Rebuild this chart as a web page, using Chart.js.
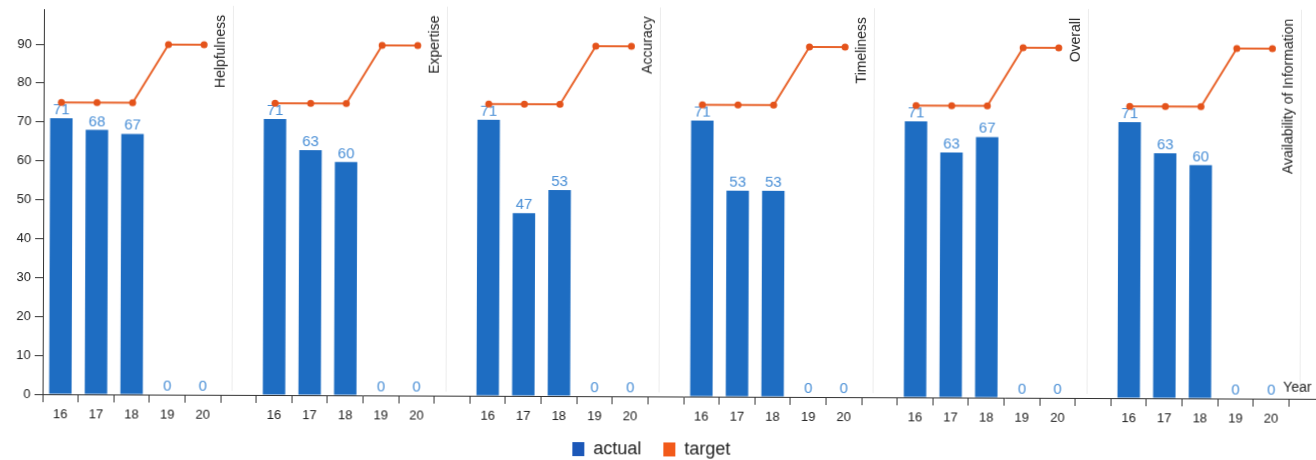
<!DOCTYPE html>
<html>
<head>
<meta charset="utf-8">
<script src="https://cdn.jsdelivr.net/npm/chart.js@4/dist/chart.umd.min.js"></script>
<style>
  html, body { margin: 0; padding: 0; background: #fff; overflow: hidden; }
  #wrap { width: 1330px; height: 460px; transform: rotate(0.21deg); transform-origin: 0 0; }
</style>
</head>
<body>
<div id="wrap"><canvas id="c" width="1330" height="460"></canvas></div>
<script>
// Survey scores per metric, by year
const years = ['16', '17', '18', '19', '20'];
const metrics = ['Helpfulness', 'Expertise', 'Accuracy', 'Timeliness', 'Overall', 'Availability of Information'];

const actualHelpfulness = [71, 68, 67, 0, 0];
const actualExpertise   = [71, 63, 60, 0, 0];
const actualAccuracy    = [71, 47, 53, 0, 0];
const actualTimeliness  = [71, 53, 53, 0, 0];
const actualOverall     = [71, 63, 67, 0, 0];
const actualAvailability = [71, 63, 60, 0, 0];

const targetHelpfulness = [75, 75, 75, 90, 90];
const targetExpertise   = [75, 75, 75, 90, 90];
const targetAccuracy    = [75, 75, 75, 90, 90];
const targetTimeliness  = [75, 75, 75, 90, 90];
const targetOverall     = [75, 75, 75, 90, 90];
const targetAvailability = [75, 75, 75, 90, 90];

const yTicks = [0, 10, 20, 30, 40, 50, 60, 70, 80, 90];

const actualSets = [actualHelpfulness, actualExpertise, actualAccuracy, actualTimeliness, actualOverall, actualAvailability];
const targetSets = [targetHelpfulness, targetExpertise, targetAccuracy, targetTimeliness, targetOverall, targetAvailability];

// Each metric gets its five years followed by one empty slot that holds its caption
const labels = [], actualData = [], targetData = [], captionSlots = [];
metrics.forEach((m, i) => {
  years.forEach((y, j) => {
    labels.push(y);
    actualData.push(actualSets[i][j]);
    targetData.push(targetSets[i][j]);
  });
  captionSlots.push(labels.length);
  labels.push('');
  actualData.push(null);
  targetData.push(null);
});

const FONT = 'Arial, "Liberation Sans", sans-serif';
const legendFill = { actual: '#1c58b8', target: '#f25a1a' };

// Value labels above the bars, drawn before the target line so the line sits over them
const barValues = {
  id: 'barValues',
  afterDatasetDraw(chart, args) {
    if (args.index !== 0) return;
    const ctx = chart.ctx;
    ctx.save();
    ctx.font = '15px ' + FONT;
    ctx.fillStyle = '#4a8fd6';
    ctx.textAlign = 'center';
    ctx.textBaseline = 'alphabetic';
    args.meta.data.forEach((bar, i) => {
      const v = actualData[i];
      if (v === null || v === undefined) return;
      ctx.fillText(String(v), bar.x, bar.y - 4);
    });
    ctx.restore();
  }
};

// Thin divider and vertical caption in each metric's empty slot, plus the axis name
const captions = {
  id: 'captions',
  beforeDatasetsDraw(chart) {
    const ctx = chart.ctx;
    const xs = chart.scales.x;
    const area = chart.chartArea;
    ctx.save();
    captionSlots.forEach((slot, i) => {
      const cx = xs.getPixelForValue(slot);
      const lx = Math.round(cx - 7) + 0.5;
      ctx.strokeStyle = '#ececec';
      ctx.lineWidth = 1;
      ctx.beginPath();
      ctx.moveTo(lx, area.top - 4);
      ctx.lineTo(lx, area.bottom - 4);
      ctx.stroke();

      ctx.save();
      ctx.translate(lx - 12, area.top + 5);
      ctx.rotate(-Math.PI / 2);
      ctx.font = '14px ' + FONT;
      ctx.fillStyle = '#222';
      ctx.textAlign = 'right';
      ctx.textBaseline = 'middle';
      ctx.fillText(metrics[i], 0, 0);
      ctx.restore();
    });
    const yx = xs.getPixelForValue(captionSlots[captionSlots.length - 1] - 1) + 12;
    ctx.font = '14px ' + FONT;
    ctx.fillStyle = '#222';
    ctx.textAlign = 'left';
    ctx.textBaseline = 'middle';
    ctx.fillText('Year', yx, area.bottom - 11);
    ctx.restore();
  }
};

// Nudge the legend so it sits centred under the visible part of the plot
const legendShift = {
  id: 'legendShift',
  afterLayout(chart) {
    const lg = chart.legend;
    if (!lg) return;
    const dx = -11, dy = -9;
    lg.left += dx; lg.right += dx;
    lg.top += dy;
    lg.bottom = chart.height + 20;
    if (lg.legendHitBoxes) lg.legendHitBoxes.forEach(b => { b.left += dx; b.top += dy; });
  }
};

new Chart(document.getElementById('c'), {
  data: {
    labels: labels,
    datasets: [
      {
        type: 'bar',
        label: 'actual',
        data: actualData,
        backgroundColor: '#1e6dc2',
        borderWidth: 0,
        categoryPercentage: 1,
        barPercentage: 0.63,
        order: 1
      },
      {
        type: 'line',
        label: 'target',
        data: targetData,
        borderColor: '#e8642c',
        backgroundColor: '#f05a1a',
        borderWidth: 2,
        pointRadius: 3.5,
        pointBackgroundColor: '#e4531b',
        pointBorderWidth: 0,
        spanGaps: false,
        tension: 0,
        order: 0
      }
    ]
  },
  options: {
    responsive: false,
    devicePixelRatio: 1,
    animation: false,
    layout: { padding: { top: 9, right: 2, left: 0, bottom: 0 } },
    plugins: {
      tooltip: { enabled: false },
      legend: {
        position: 'bottom',
        maxHeight: 35,
        labels: {
          font: { size: 18, family: FONT },
          color: '#222',
          boxWidth: 12,
          boxHeight: 14,
          padding: 22,
          sort: (a, b) => a.datasetIndex - b.datasetIndex,
          generateLabels(chart) {
            return Chart.defaults.plugins.legend.labels.generateLabels(chart).map(l => {
              l.fillStyle = legendFill[l.text] || l.fillStyle;
              l.strokeStyle = l.fillStyle;
              l.lineWidth = 0;
              return l;
            });
          }
        }
      }
    },
    scales: {
      x: {
        type: 'category',
        offset: true,
        grid: { display: true, drawOnChartArea: false, offset: true, tickLength: 8, color: '#333', tickWidth: 1 },
        border: { display: true, color: '#333', width: 1 },
        ticks: { autoSkip: false, maxRotation: 0, font: { size: 13, family: FONT }, color: '#222', padding: 5 },
        afterFit(s) { s.height = 31; }
      },
      y: {
        min: 0,
        max: 99,
        afterBuildTicks(s) { s.ticks = yTicks.map(v => ({ value: v })); },
        grid: { display: true, drawOnChartArea: false, tickLength: 8, color: '#333' },
        border: { display: true, color: '#333', width: 1 },
        ticks: { font: { size: 13, family: FONT }, color: '#222', padding: 4 },
        afterFit(s) { s.width = 44; s.paddingTop = 0; s.paddingBottom = 0; }
      }
    }
  },
  plugins: [barValues, captions, legendShift]
});
</script>
</body>
</html>
